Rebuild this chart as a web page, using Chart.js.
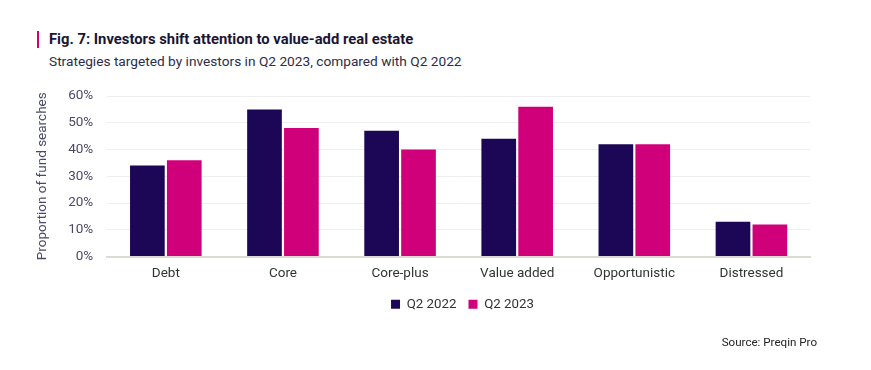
<!DOCTYPE html>
<html>
<head>
<meta charset="utf-8">
<script src="https://cdn.jsdelivr.net/npm/chart.js@4.4.0/dist/chart.umd.min.js"></script>
<style>
  body { margin: 0; background: #fff; width: 871px; height: 370px; overflow: hidden; font-family: Roboto, sans-serif; }
  .titulo { position: absolute; left: 37px; top: 31px; padding-left: 10px; border-left: 2px solid #d0007a;
            font-size: 14.8px; font-weight: 700; color: #1b1535; line-height: 17px; }
  .subtitulo { position: absolute; left: 49px; top: 53px; font-size: 13.7px; color: #2c2c4a; }
  .fonte { position: absolute; right: 54px; top: 335px; font-size: 11.6px; color: #222; }
  .wrap { position: absolute; left: 0; top: 0; width: 871px; height: 370px; }
</style>
</head>
<body>
<div class="titulo">Fig. 7: Investors shift attention to value-add real estate</div>
<div class="subtitulo">Strategies targeted by investors in Q2 2023, compared with Q2 2022</div>
<div class="wrap"><canvas id="grafico"></canvas></div>
<div class="fonte">Source: Preqin Pro</div>
<script>
// dados
const categorias = ['Debt', 'Core', 'Core-plus', 'Value added', 'Opportunistic', 'Distressed'];
const q2_2022    = [34, 55, 47, 44, 42, 13];
const q2_2023    = [36, 48, 40, 56, 42, 12];
const ticksY     = [0, 10, 20, 30, 40, 50, 60];

// desloca a legenda para ficar centrada como no original
const moverLegenda = {
  id: 'moverLegenda',
  afterLayout(chart) {
    const lg = chart.legend;
    if (!lg) return;
    lg.left += 42; lg.right += 42;
    lg.top -= 5; lg.bottom -= 5;
  }
};

const ctx = document.getElementById('grafico').getContext('2d');

new Chart(ctx, {
  type: 'bar',
  data: {
    labels: categorias,
    datasets: [
      { label: 'Q2 2022', data: q2_2022, backgroundColor: '#1b0755' },
      { label: 'Q2 2023', data: q2_2023, backgroundColor: '#d0007a' }
    ]
  },
  options: {
    responsive: true,
    maintainAspectRatio: false,
    animation: false,
    categoryPercentage: 0.63,
    barPercentage: 0.94,
    layout: { padding: { left: 31, right: 61, top: 96, bottom: 44 } },
    plugins: {
      legend: {
        position: 'bottom',
        labels: {
          boxWidth: 9, boxHeight: 9, padding: 12,
          color: '#333', font: { family: 'Roboto', size: 13.3 }
        }
      },
      tooltip: { enabled: false }
    },
    scales: {
      x: {
        grid: { display: false, drawTicks: false },
        border: { color: '#dcd8d4', width: 2 },
        ticks: { color: '#333', padding: 9, font: { family: 'Roboto', size: 13.5 } }
      },
      y: {
        min: 0, max: 60,
        afterBuildTicks: s => { s.ticks = ticksY.map(v => ({ value: v })); },
        grid: { color: '#eeeeee', lineWidth: 1, drawTicks: false },
        border: { display: false },
        ticks: {
          color: '#4a4a66', padding: 14, font: { family: 'Roboto', size: 13.5 },
          callback: v => v + '%'
        },
        title: {
          display: true, text: 'Proportion of fund searches',
          color: '#4a4a66', font: { family: 'Roboto', size: 13.5 }, padding: { bottom: 3 }
        }
      }
    }
  },
  plugins: [moverLegenda]
});
</script>
</body>
</html>
